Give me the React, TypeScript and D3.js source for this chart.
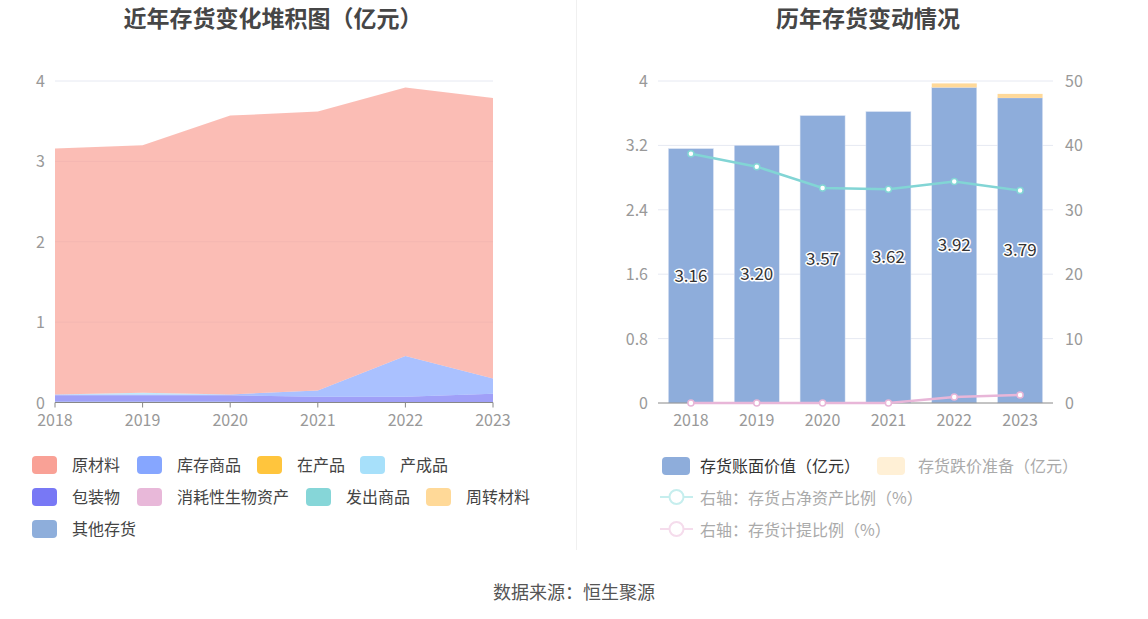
import React from "react";
import * as d3 from "d3";

const years = ["2018", "2019", "2020", "2021", "2022", "2023"];

// 左图：近年存货变化堆积图（亿元），自下而上堆叠
const 发出商品 = [0.01, 0.01, 0.01, 0, 0, 0];
const 包装物 = [0.08, 0.08, 0.08, 0.07, 0.07, 0.11];
const 库存商品 = [0.01, 0.01, 0.01, 0.08, 0.51, 0.19];
const 产成品 = [0, 0.02, 0, 0, 0, 0];
const 原材料 = [3.06, 3.08, 3.47, 3.47, 3.34, 3.49];
const leftTicks = [0, 1, 2, 3, 4];

// 右图：历年存货变动情况
const bookValue = [3.16, 3.2, 3.57, 3.62, 3.92, 3.79];
const impairment = [0, 0, 0, 0, 0.05, 0.05];
const netAssetRatio = [38.7, 36.7, 33.4, 33.2, 34.4, 33.0];
const provisionRatio = [0, 0, 0, 0, 0.95, 1.25];
const rightTicksL = [0, 0.8, 1.6, 2.4, 3.2, 4];
const rightTicksR = [0, 10, 20, 30, 40, 50];

const leftLegend = [
  { name: "原材料", color: "#f9a196", x: 32, y: 465 },
  { name: "库存商品", color: "#86a6ff", x: 137, y: 465 },
  { name: "在产品", color: "#ffc53d", x: 257, y: 465 },
  { name: "产成品", color: "#a7e0fa", x: 360, y: 465 },
  { name: "包装物", color: "#7878f5", x: 32, y: 497 },
  { name: "消耗性生物资产", color: "#e8b8d9", x: 137, y: 497 },
  { name: "发出商品", color: "#86d6d8", x: 306, y: 497 },
  { name: "周转材料", color: "#ffd998", x: 426, y: 497 },
  { name: "其他存货", color: "#8eaedb", x: 32, y: 529 },
];

const layerColors: Record<string, string> = {
  发出商品: "#86d6d8",
  包装物: "#7878f5",
  库存商品: "#86a6ff",
  产成品: "#a7e0fa",
  原材料: "#f9a196",
};

const FONT = "'Noto Sans CJK SC', 'Noto Sans', sans-serif";

export default function App() {
  // left chart
  const lx = d3.scalePoint<string>().domain(years).range([55, 493]);
  const ly = d3.scaleLinear().domain([0, 4]).range([402.5, 81]);
  const rows = years.map((y, i) => ({
    year: y,
    发出商品: 发出商品[i],
    包装物: 包装物[i],
    库存商品: 库存商品[i],
    产成品: 产成品[i],
    原材料: 原材料[i],
  }));
  const keys = ["发出商品", "包装物", "库存商品", "产成品", "原材料"];
  const stacked = d3.stack<any>().keys(keys)(rows);
  const area = d3
    .area<any>()
    .x((d) => lx(d.data.year) as number)
    .y0((d) => ly(d[0]))
    .y1((d) => ly(d[1]));

  // right chart
  const rx = d3.scaleBand<string>().domain(years).range([658, 1053]);
  const ry = d3.scaleLinear().domain([0, 4]).range([403, 81]);
  const ry2 = d3.scaleLinear().domain([0, 50]).range([403, 81]);
  const barW = 45;
  const cx = (y: string) => (rx(y) as number) + rx.bandwidth() / 2;
  const line = d3
    .line<number>()
    .x((_, i) => cx(years[i]))
    .y((d) => ry2(d));

  return (
    <svg
      width={1148}
      height={619}
      style={{ position: "absolute", left: 0, top: 0, display: "block", fontFamily: FONT }}
    >
      <rect width={1148} height={619} fill="#fff" />
      {/* titles */}
      <text x={273} y={27} textAnchor="middle" fontSize={23} fontWeight="bold" fill="#464646">
        近年存货变化堆积图（亿元）
      </text>
      <text x={868} y={27} textAnchor="middle" fontSize={23} fontWeight="bold" fill="#464646">
        历年存货变动情况
      </text>
      <line x1={576.5} x2={576.5} y1={0} y2={550} stroke="#f0f0f0" />

      {/* left grid */}
      {leftTicks.map((t) => (
        <g key={t}>
          {t > 0 && <line x1={55} x2={493} y1={ly(t)} y2={ly(t)} stroke="#e6e9f2" />}
          <text x={45} y={ly(t) + 6} textAnchor="end" fontSize={16} fill="#999">
            {t}
          </text>
        </g>
      ))}
      {stacked.map((s) => (
        <path key={s.key} d={area(s) as string} fill={layerColors[s.key]} fillOpacity={0.7} />
      ))}
      <line x1={55} x2={493} y1={402.5} y2={402.5} stroke="#888" />
      {years.map((y) => (
        <g key={y}>
          <line x1={lx(y)} x2={lx(y)} y1={402.5} y2={407.5} stroke="#888" />
          <text x={lx(y)} y={426} textAnchor="middle" fontSize={16} fill="#999">
            {y}
          </text>
        </g>
      ))}

      {/* left legend */}
      {leftLegend.map((l) => (
        <g key={l.name}>
          <rect x={l.x} y={l.y - 9} width={25} height={18} rx={4} fill={l.color} />
          <text x={l.x + 40} y={l.y + 6} fontSize={16} fill="#444">
            {l.name}
          </text>
        </g>
      ))}

      {/* right grid */}
      {rightTicksL.map((t, i) => (
        <g key={t}>
          {t > 0 && <line x1={658} x2={1053} y1={ry(t)} y2={ry(t)} stroke="#e6e9f2" />}
          <text x={648} y={ry(t) + 6} textAnchor="end" fontSize={16} fill="#999">
            {t}
          </text>
          <text x={1065} y={ry2(rightTicksR[i]) + 6} textAnchor="start" fontSize={16} fill="#999">
            {rightTicksR[i]}
          </text>
        </g>
      ))}
      {years.map((y, i) => (
        <g key={y}>
          <rect
            x={cx(y) - barW / 2}
            y={ry(bookValue[i])}
            width={barW}
            height={ry(0) - ry(bookValue[i])}
            fill="#8eaddb"
            stroke="#dbe4f4"
            strokeWidth={0.5}
          />
          {impairment[i] > 0 && (
            <rect
              x={cx(y) - barW / 2}
              y={ry(bookValue[i] + impairment[i])}
              width={barW}
              height={ry(bookValue[i]) - ry(bookValue[i] + impairment[i])}
              fill="#ffd999"
            />
          )}
        </g>
      ))}
      <line x1={658} x2={1053} y1={403} y2={403} stroke="#888" />
      <path d={line(netAssetRatio) as string} fill="none" stroke="#82d5d5" strokeWidth={2.5} />
      <path d={line(provisionRatio) as string} fill="none" stroke="#e8b6d8" strokeWidth={2.5} />
      {years.map((y, i) => (
        <g key={y}>
          <circle cx={cx(y)} cy={ry2(netAssetRatio[i])} r={3} fill="#fff" stroke="#82d5d5" strokeWidth={1.5} />
          <circle cx={cx(y)} cy={ry2(provisionRatio[i])} r={3} fill="#fff" stroke="#e8b6d8" strokeWidth={1.5} />
          <text
            x={cx(y)}
            y={ry(bookValue[i] / 2) + 6}
            textAnchor="middle"
            fontSize={17}
            fill="#333"
            stroke="#fff"
            strokeWidth={3}
            paintOrder="stroke"
            strokeLinejoin="round"
          >
            {bookValue[i].toFixed(2)}
          </text>
          <text x={cx(y)} y={426} textAnchor="middle" fontSize={16} fill="#999">
            {y}
          </text>
        </g>
      ))}

      {/* right legend */}
      <rect x={662} y={457} width={28} height={18} rx={4} fill="#8eaddb" />
      <text x={700} y={472} fontSize={16} fill="#333">
        存货账面价值（亿元）
      </text>
      <rect x={877} y={457} width={28} height={18} rx={4} fill="#fff0d6" />
      <text x={918} y={472} fontSize={16} fill="#aaa">
        存货跌价准备（亿元）
      </text>
      <line x1={660} x2={693} y1={497} y2={497} stroke="#c6eeee" strokeWidth={2} />
      <circle cx={676.5} cy={497} r={7} fill="#fff" stroke="#c6eeee" strokeWidth={2} />
      <text x={700} y={504} fontSize={16} fill="#aaa">
        右轴：存货占净资产比例（%）
      </text>
      <line x1={660} x2={693} y1={529} y2={529} stroke="#f5dcec" strokeWidth={2} />
      <circle cx={676.5} cy={529} r={7} fill="#fff" stroke="#f5dcec" strokeWidth={2} />
      <text x={700} y={536} fontSize={16} fill="#aaa">
        右轴：存货计提比例（%）
      </text>

      <text x={574} y={599} textAnchor="middle" fontSize={18} fill="#555">
        数据来源：恒生聚源
      </text>
    </svg>
  );
}
